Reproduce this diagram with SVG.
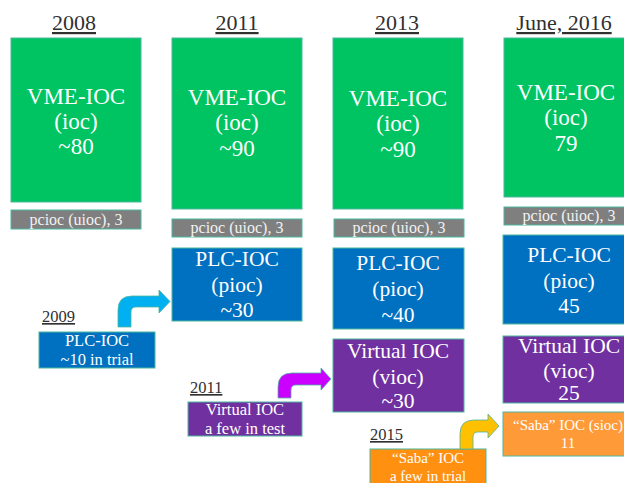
<svg xmlns="http://www.w3.org/2000/svg" width="624" height="483" viewBox="0 0 624 483">
<style>
  text { font-family: "Liberation Serif", "Times New Roman", serif; text-anchor: middle; fill: #ffffff; }
  .yr { font-size: 22px; fill: #303030; text-decoration: underline; }
  .syr { font-size: 16.5px; fill: #303030; text-decoration: underline; text-anchor: start; }
  .box { stroke: #4cb6a0; stroke-width: 1; }
  .green { fill: #00c462; }
  .gray { fill: #7f7f7f; }
  .blue { fill: #0070c0; }
  .purple { fill: #7030a0; }
  .org1 { fill: #ff9010; }
  .org2 { fill: #ff9a38; }
  .big { font-size: 23px; }
  .mid { font-size: 21.5px; }
  .sm { font-size: 16.5px; }
  .gt { font-size: 16px; fill: #f2f2f2; }
  .xs { font-size: 15px; }
  .arr { stroke: #4cb6a0; stroke-width: 0.8; }
</style>

<g id="years">
  <text class="yr" x="74" y="30">2008</text>
  <text class="yr" x="237" y="30">2011</text>
  <text class="yr" x="397" y="30">2013</text>
  <text class="yr" x="564" y="30">June, 2016</text>
</g>

<g id="vme-2008">
  <rect class="box green" x="11" y="38" width="130" height="164"/>
  <text class="big" x="76" y="104">VME-IOC</text>
  <text class="big" x="76" y="129">(ioc)</text>
  <text class="big" x="76" y="154">~80</text>
</g>
<g id="pcioc-2008">
  <rect class="box gray" x="11" y="210" width="130" height="19"/>
  <text class="gt" x="76" y="225">pcioc (uioc), 3</text>
</g>

<g id="vme-2011">
  <rect class="box green" x="172" y="38" width="130" height="171"/>
  <text class="big" x="237" y="105">VME-IOC</text>
  <text class="big" x="237" y="130">(ioc)</text>
  <text class="big" x="237" y="156">~90</text>
</g>
<g id="pcioc-2011">
  <rect class="box gray" x="172" y="219" width="130" height="18"/>
  <text class="gt" x="237" y="233">pcioc (uioc), 3</text>
</g>
<g id="plc-2011">
  <rect class="box blue" x="172" y="248" width="130" height="73"/>
  <text class="mid" x="237" y="266">PLC-IOC</text>
  <text class="mid" x="237" y="292">(pioc)</text>
  <text class="mid" x="237" y="317">~30</text>
</g>

<g id="vme-2013">
  <rect class="box green" x="333" y="38" width="130" height="171"/>
  <text class="big" x="398" y="106">VME-IOC</text>
  <text class="big" x="398" y="131">(ioc)</text>
  <text class="big" x="398" y="157">~90</text>
</g>
<g id="pcioc-2013">
  <rect class="box gray" x="334" y="219" width="130" height="18"/>
  <text class="gt" x="399" y="233">pcioc (uioc), 3</text>
</g>
<g id="plc-2013">
  <rect class="box blue" x="333" y="248" width="131" height="81"/>
  <text class="mid" x="398" y="270">PLC-IOC</text>
  <text class="mid" x="398" y="296">(pioc)</text>
  <text class="mid" x="398" y="322">~40</text>
</g>
<g id="vioc-2013">
  <rect class="box purple" x="333" y="339" width="131" height="73"/>
  <text class="mid" x="398" y="358">Virtual IOC</text>
  <text class="mid" x="398" y="384">(vioc)</text>
  <text class="mid" x="398" y="408">~30</text>
</g>

<g id="vme-2016">
  <rect class="box green" x="504" y="38" width="130" height="159"/>
  <text class="big" x="566" y="100">VME-IOC</text>
  <text class="big" x="566" y="125">(ioc)</text>
  <text class="big" x="566" y="151">79</text>
</g>
<g id="pcioc-2016">
  <rect class="box gray" x="504" y="207" width="130" height="18"/>
  <text class="gt" x="569" y="221">pcioc (uioc), 3</text>
</g>
<g id="plc-2016">
  <rect class="box blue" x="503" y="235" width="131" height="89"/>
  <text class="mid" x="569" y="262">PLC-IOC</text>
  <text class="mid" x="569" y="288">(pioc)</text>
  <text class="mid" x="569" y="313">45</text>
</g>
<g id="vioc-2016">
  <rect class="box purple" x="503" y="336" width="131" height="67"/>
  <text class="mid" x="569" y="353">Virtual IOC</text>
  <text class="mid" x="569" y="378">(vioc)</text>
  <text class="mid" x="569" y="400">25</text>
</g>
<g id="sioc-2016">
  <rect class="box org2" x="503" y="412" width="131" height="44"/>
  <text class="xs" x="568" y="430">“Saba” IOC (sioc)</text>
  <text class="xs" x="568" y="448">11</text>
</g>

<g id="plc-2009">
  <text class="syr" x="42" y="322">2009</text>
  <rect class="box blue" x="39" y="332" width="116" height="36"/>
  <text class="sm" x="97" y="346">PLC-IOC</text>
  <text class="sm" x="97" y="365">~10 in trial</text>
</g>
<g id="vioc-2011">
  <text class="syr" x="190" y="393">2011</text>
  <rect class="box purple" x="188" y="402" width="114" height="34"/>
  <text class="sm" x="245" y="415">Virtual IOC</text>
  <text class="sm" x="245" y="434">a few in test</text>
</g>
<g id="saba-2015">
  <text class="syr" x="370" y="440">2015</text>
  <rect class="box org1" x="370" y="449" width="116" height="40"/>
  <text class="xs" x="428" y="463">“Saba” IOC</text>
  <text class="xs" x="428" y="481">a few in trial</text>
</g>

<g id="connectors">
  <path class="arr" fill="#00b0f0" d="M118,327 L118,310 Q118,296 132,296 L159,296 L159,290 L170,301.5 L159,313 L159,307 L136,307 Q131,307 131,312 L131,327 Z"/>
  <path class="arr" fill="#cc00ff" d="M278,398 L278,387 Q278,373 292,373 L321,373 L321,368 L331,379 L321,390 L321,385 L296,385 Q291,385 291,390 L291,398 Z"/>
  <path class="arr" fill="#ffc000" d="M460,449 L460,434 Q460,420 474,420 L488,420 L488,414 L499,426 L488,438 L488,432 L478,432 Q473,432 473,437 L473,449 Z"/>
</g>
</svg>
